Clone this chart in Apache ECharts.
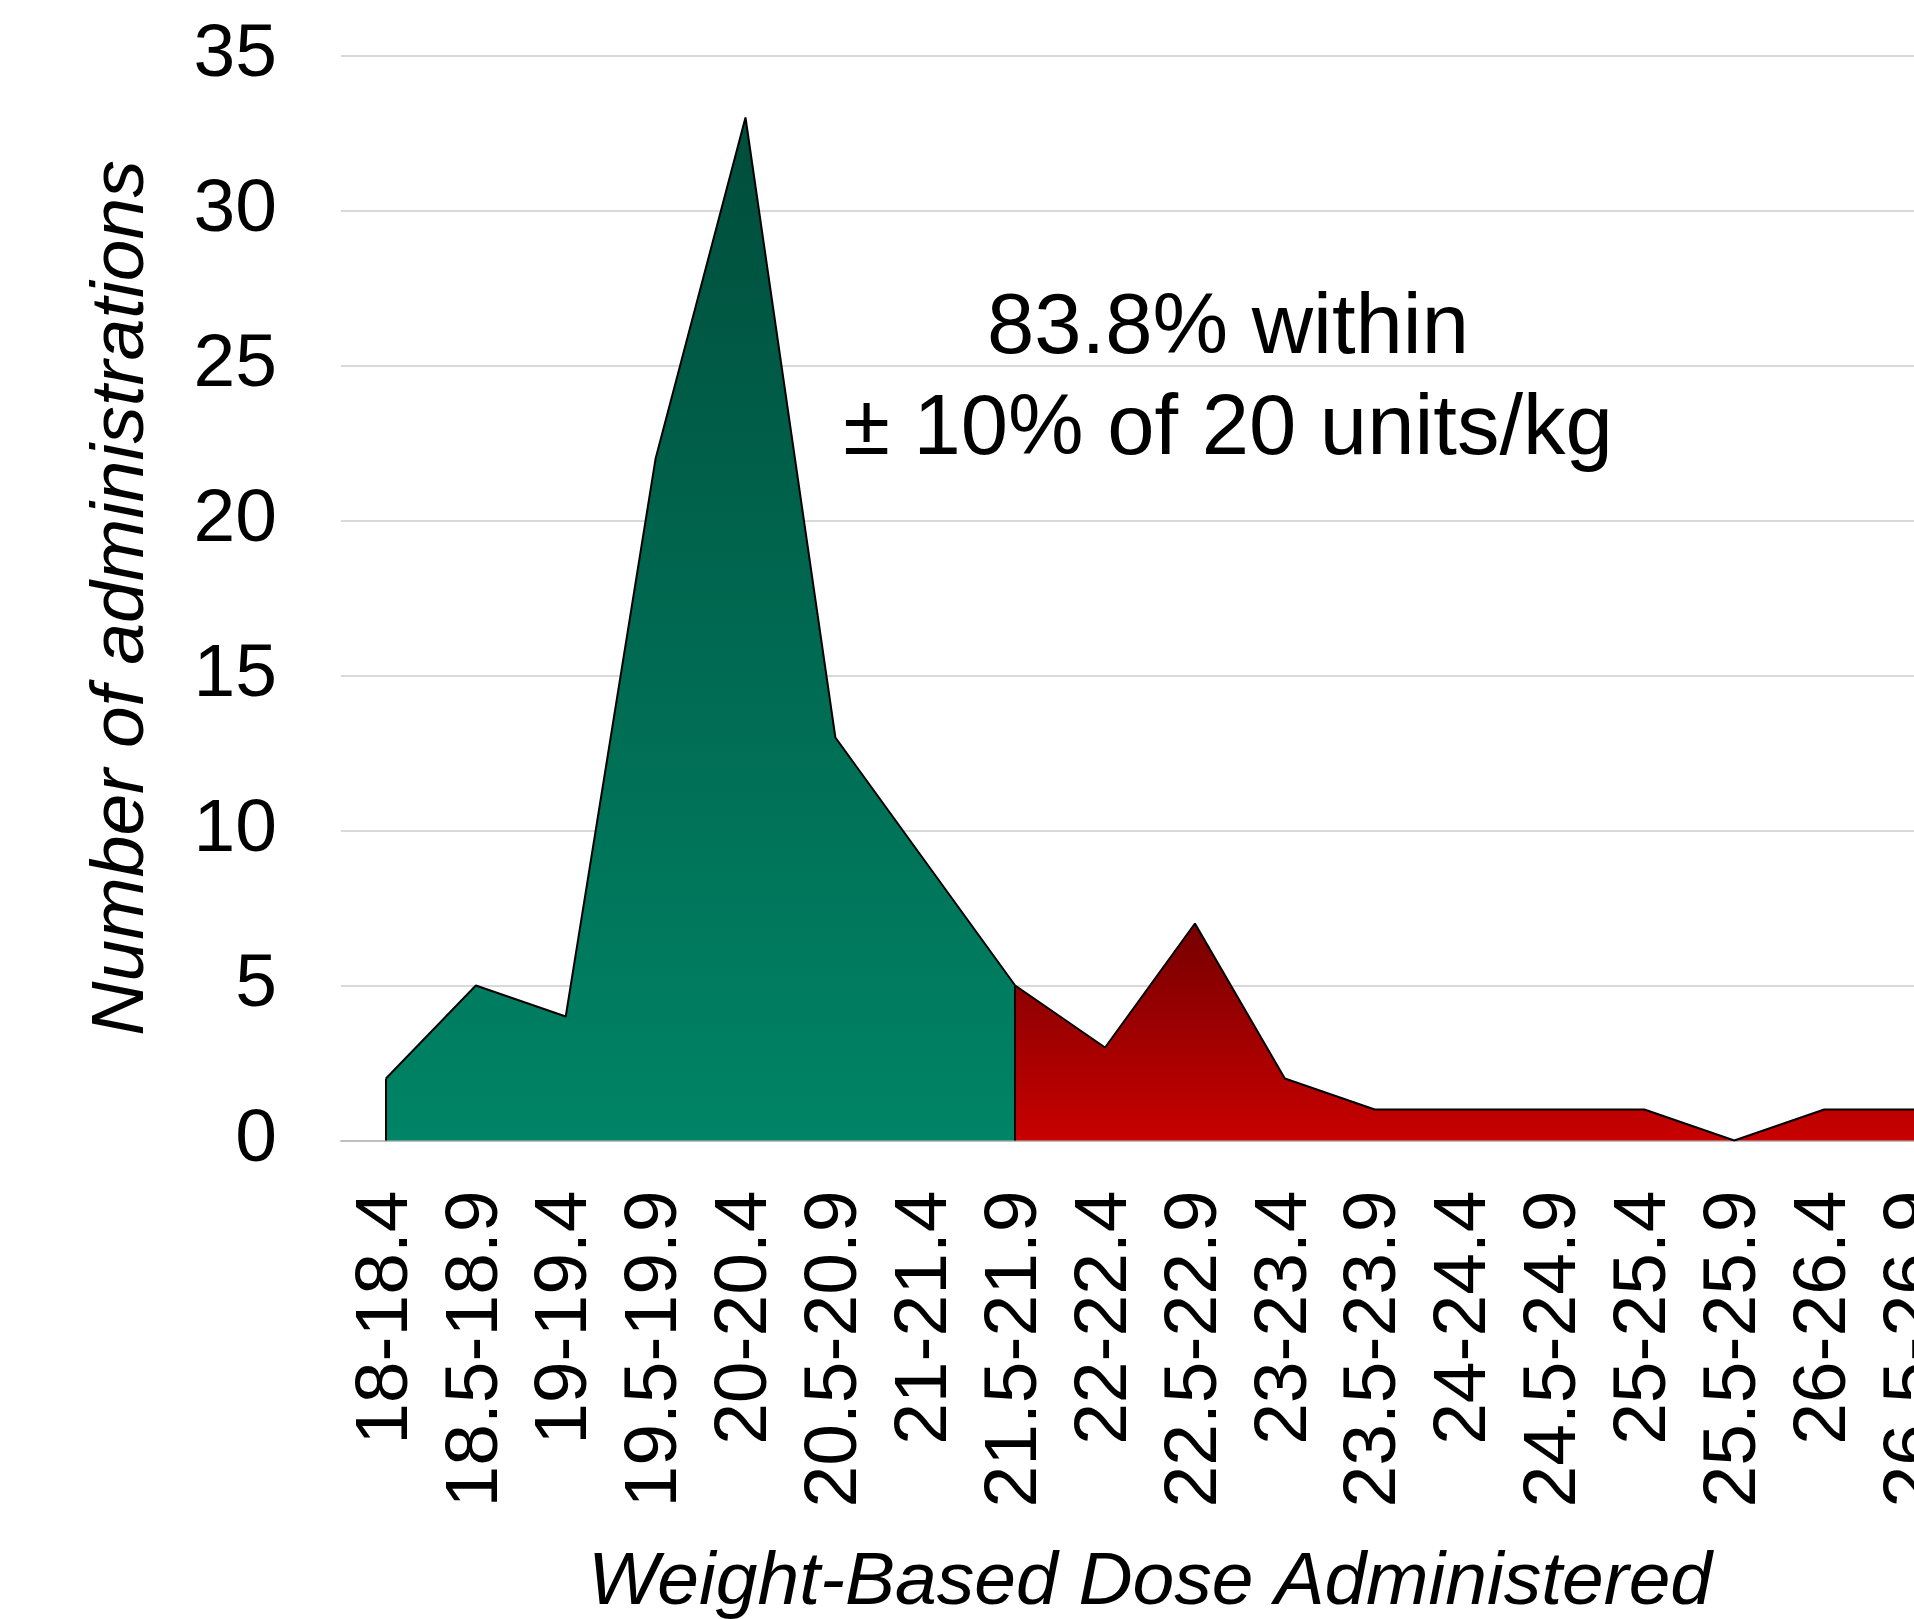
<!DOCTYPE html>
<html>
<head>
<meta charset="utf-8">
<script src="https://cdn.jsdelivr.net/npm/echarts@6/dist/echarts.min.js"></script>
<style>
html,body{margin:0;padding:0;background:#fff;}
#chart{width:1914px;height:1619px;}
</style>
</head>
<body>
<div id="chart"></div>
<script>
const categories = ['18-18.4','18.5-18.9','19-19.4','19.5-19.9','20-20.4','20.5-20.9','21-21.4','21.5-21.9','22-22.4','22.5-22.9','23-23.4','23.5-23.9','24-24.4','24.5-24.9','25-25.4','25.5-25.9','26-26.4','26.5-26.9'];
const withinRange = [2,5,4,22,33,13,9,5,null,null,null,null,null,null,null,null,null,null];
const outsideRange = [null,null,null,null,null,null,null,5,3,7,2,1,1,1,1,0,1,1];
const yTicks = {min:0, max:35, interval:5};
const annotationLines = ['83.8% within', '\u00B1 10% of 20 units/kg'];

const FONT = '"Liberation Sans", Arial, sans-serif';
const chart = echarts.init(document.getElementById('chart'), null, {renderer:'canvas'});

function edge(idx, vals){
  return [[{coord:[idx,0]},{coord:[idx,vals[idx]]}]];
}

chart.setOption({
  animation:false,
  backgroundColor:'#ffffff',
  grid:{left:341, right:-45, top:55.5, bottom:478.5, containLabel:false, outerBoundsMode:'none'},
  xAxis:{
    type:'category',
    data:categories,
    boundaryGap:true,
    axisLine:{show:true, lineStyle:{color:'#bfbfbf', width:2}},
    axisTick:{show:false},
    axisLabel:{rotate:90, interval:0, margin:50, fontSize:75, color:'#000', fontFamily:FONT},
    name:'Weight-Based Dose Administered',
    nameLocation:'middle',
    nameGap:405,
    nameTextStyle:{fontSize:75, fontStyle:'italic', color:'#000', fontFamily:FONT, lineHeight:75}
  },
  yAxis:{
    type:'value',
    min:yTicks.min, max:yTicks.max, interval:yTicks.interval,
    axisLine:{show:false},
    axisTick:{show:false},
    splitLine:{show:true, lineStyle:{color:'#d9d9d9', width:2}},
    axisLabel:{margin:64, fontSize:75, color:'#000', fontFamily:FONT},
    name:'Number of administrations',
    nameLocation:'middle',
    nameGap:181,
    nameTextStyle:{fontSize:75, fontStyle:'italic', color:'#000', fontFamily:FONT, lineHeight:75}
  },
  series:[
    {
      type:'line',
      data:withinRange,
      symbol:'none',
      connectNulls:false,
      lineStyle:{color:'#000', width:2},
      areaStyle:{opacity:1, color:new echarts.graphic.LinearGradient(0,0,0,1,[{offset:0,color:'#004d3b'},{offset:1,color:'#008466'}])},
      markLine:{silent:true, symbol:['none','none'], label:{show:false}, lineStyle:{color:'#000', width:2, type:'solid'}, data:edge(0, withinRange).concat(edge(7, withinRange))},
      z:3
    },
    {
      type:'line',
      data:outsideRange,
      symbol:'none',
      connectNulls:false,
      lineStyle:{color:'#000', width:2},
      areaStyle:{opacity:1, color:new echarts.graphic.LinearGradient(0,0,0,1,[{offset:0,color:'#760000'},{offset:1,color:'#c80000'}])},
      z:2
    }
  ],
  graphic:[
    {type:'text', x:1228, y:279, style:{text:annotationLines.join('\n'), font:'85px '+FONT, fill:'#000', align:'center', verticalAlign:'top', lineHeight:101}}
  ]
});
</script>
</body>
</html>
